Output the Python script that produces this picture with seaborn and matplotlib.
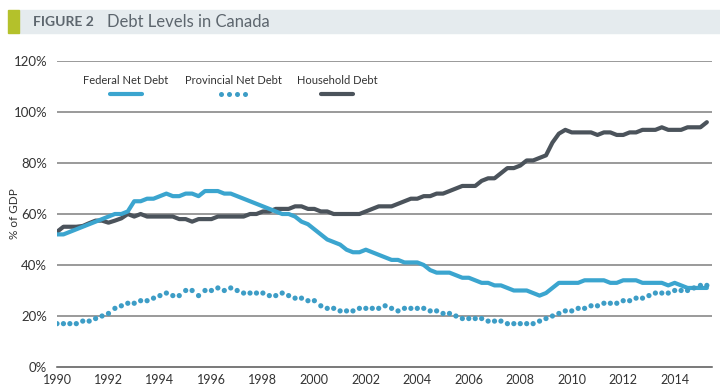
import numpy as np
import pandas as pd
import matplotlib.pyplot as plt
import seaborn as sns
from matplotlib.lines import Line2D
from matplotlib.patches import Rectangle
from matplotlib.ticker import MultipleLocator, FuncFormatter

# quarterly values, % of GDP, 1990Q1 .. 2015Q2
federal = [52, 52, 53, 54, 55, 56, 57, 58, 59, 60,
           60, 61, 65, 65, 66, 66, 67, 68, 67, 67,
           68, 68, 67, 69, 69, 69, 68, 68, 67, 66,
           65, 64, 63, 62, 61, 60, 60, 59, 57, 56,
           54, 52, 50, 49, 48, 46, 45, 45, 46, 45,
           44,
           43, 42, 42, 41, 41, 41, 40, 38, 37, 37,
           37, 36, 35, 35, 34, 33, 33, 32, 32, 31,
           30, 30, 30, 29, 28, 29, 31, 33, 33, 33,
           33, 34, 34, 34, 34, 33, 33, 34, 34, 34,
           33, 33, 33, 33, 32, 33, 32, 31, 31, 31,
           31]
provincial = [17, 17, 17, 17, 18, 18, 19, 20, 21, 23,
              24, 25, 25, 26, 26, 27, 28, 29, 28, 28,
              30, 30, 28, 30, 30, 31, 30, 31, 30, 29,
              29, 29, 29, 28, 28, 29, 28, 27, 27, 26,
              26, 24, 23, 23, 22, 22, 22, 23, 23, 23,
              23,
              24, 23, 22, 23, 23, 23, 23, 22, 22, 21,
              21, 20, 19, 19, 19, 19, 18, 18, 18, 17,
              17, 17, 17, 17, 18, 19, 20, 21, 22, 22,
              23, 23, 24, 24, 25, 25, 25, 26, 26, 27,
              27, 28, 29, 29, 29, 30, 30, 30, 31, 32,
              32]
household = [53, 55, 55, 55, 55.3, 56.4, 57.4, 57.4, 56.6, 57.4,
             58.3, 60, 59, 60, 59, 59, 59, 59, 59, 58,
             58, 57, 58, 58, 58, 59, 59, 59, 59, 59,
             60, 60, 61, 61, 62, 62, 62, 63, 63, 62,
             62, 61, 61, 60, 60, 60, 60, 60, 61, 62,
             63,
             63, 63, 64, 65, 66, 66, 67, 67, 68, 68,
             69, 70, 71, 71, 71, 73, 74, 74, 76, 78,
             78, 79, 81, 81, 82, 83, 88, 91.5, 93, 92,
             92, 92, 92, 91, 92, 92, 91, 91, 92, 92,
             93, 93, 93, 94, 93, 93, 93, 94, 94, 94,
             96]

years = 1990 + np.arange(len(federal)) * 0.25
series_names = ['Federal Net Debt', 'Provincial Net Debt', 'Household Debt']
year_ticks = list(range(1990, 2015, 2))

BLUE = '#3ba5cf'
BLUE_DOT = '#3d9dc6'
DARK = '#4b535b'
TEXT = '#333333'

df = pd.DataFrame({
    'year': np.tile(years, 3),
    'value': federal + provincial + household,
    'series': np.repeat(series_names, len(years)),
})

sns.set_style('white')
plt.rcParams['font.family'] = ['Lato', 'DejaVu Sans']

fig = plt.figure(figsize=(7.2, 3.92), dpi=100)
ax = fig.add_axes([57 / 720, 25 / 392, 655 / 720, 306 / 392])

# title band
fig.patches.append(Rectangle((19 / 720, 1 - 33 / 392), 701 / 720, 23 / 392,
                             transform=fig.transFigure, color='#e5ebee', zorder=0))
fig.patches.append(Rectangle((8 / 720, 1 - 33 / 392), 11 / 720, 23 / 392,
                             transform=fig.transFigure, color='#b4c12b', zorder=0))
fig.text(33 / 720, 1 - 22 / 392, 'FIGURE 2', fontsize=10, fontweight='bold',
         color='#5d666e', va='center', ha='left')
fig.text(107 / 720, 1 - 22 / 392, 'Debt Levels in Canada', fontsize=12,
         color='#5d666e', va='center', ha='left')

# gridlines
for v in [20, 40, 60, 80, 100, 120]:
    ax.axhline(v, color='#7f7f7f', lw=1.1, zorder=0)

sns.lineplot(data=df[df.series == 'Household Debt'], x='year', y='value',
             color=DARK, lw=3, ax=ax, legend=False, zorder=3)
sns.lineplot(data=df[df.series == 'Federal Net Debt'], x='year', y='value',
             color=BLUE, lw=3, ax=ax, legend=False, zorder=4)
sns.scatterplot(data=df[df.series == 'Provincial Net Debt'], x='year', y='value',
                color=BLUE_DOT, s=14, edgecolor='none', ax=ax, legend=False, zorder=5)

ax.set_xlim(1990, 2015.45)
ax.set_ylim(0, 120)
ax.set_yticks([0, 20, 40, 60, 80, 100, 120])
ax.yaxis.set_major_formatter(FuncFormatter(lambda v, p: f'{v:.0f}%'))
ax.set_xticks(year_ticks)
ax.set_xticklabels([str(y) for y in year_ticks])
ax.xaxis.set_minor_locator(MultipleLocator(0.25))
ax.tick_params(axis='x', which='both', direction='in', length=3, width=0.8,
               color='#555555', labelsize=9, labelcolor=TEXT, pad=5)
ax.tick_params(axis='y', length=0, labelsize=9.5, labelcolor=TEXT, pad=7)
ax.set_xlabel('')
ax.set_ylabel('% of GDP', fontsize=8.5, color=TEXT)
ax.yaxis.set_label_coords(-37 / 655, 0.5)

for s in ['top', 'right', 'left']:
    ax.spines[s].set_visible(False)
ax.spines['bottom'].set_color('#555555')
ax.spines['bottom'].set_linewidth(1.1)

# legend: text above, sample below
legend_x = [126, 233, 337]
for name, cx in zip(series_names, legend_x):
    fig.text(cx / 720, 1 - 80 / 392, name, fontsize=8, color=TEXT,
             ha='center', va='center')
yl = 1 - 94 / 392
fig.add_artist(Line2D([(126 - 16) / 720, (126 + 16) / 720], [yl, yl],
                      color=BLUE, lw=3, solid_capstyle='round'))
fig.add_artist(Line2D(np.linspace((233 - 12) / 720, (233 + 12) / 720, 4), [yl] * 4,
                      color=BLUE_DOT, lw=0, marker='o', ms=3.6, mec='none'))
fig.add_artist(Line2D([(337 - 16) / 720, (337 + 16) / 720], [yl, yl],
                      color=DARK, lw=3, solid_capstyle='round'))

plt.savefig('out.png', dpi=100)
plt.close()
